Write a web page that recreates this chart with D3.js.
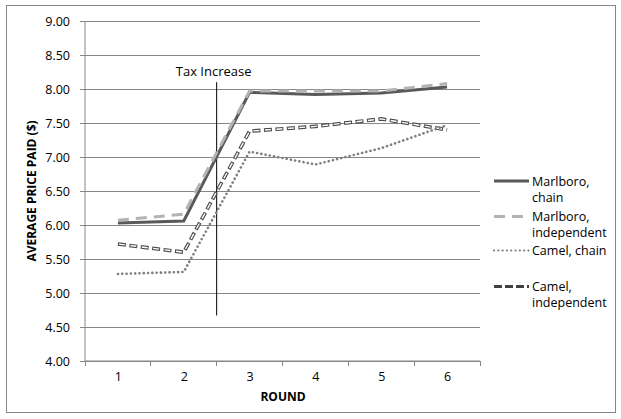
<!DOCTYPE html>
<html><head><meta charset="utf-8">
<script src="https://cdn.jsdelivr.net/npm/d3@7"></script>
<style>
body{margin:0;background:#fff;}
svg{display:block;font-family:"Open Sans",sans-serif;}
</style></head>
<body><svg id="c" width="621" height="419"></svg>
<script>
const rounds = ["1","2","3","4","5","6"];
const marlboroChain = [6.03, 6.06, 7.95, 7.92, 7.94, 8.03];
const marlboroIndependent = [6.07, 6.16, 7.97, 7.97, 7.97, 8.08];
const camelChain = [5.28, 5.31, 7.08, 6.89, 7.13, 7.47];
const camelIndependent = [5.72, 5.60, 7.38, 7.45, 7.56, 7.40];
const yTicks = [4.00, 4.50, 5.00, 5.50, 6.00, 6.50, 7.00, 7.50, 8.00, 8.50, 9.00];
const seriesNames = ["Marlboro, chain", "Marlboro, independent", "Camel, chain", "Camel, independent"];
const legendLines = [["Marlboro,", "chain"], ["Marlboro,", "independent"], ["Camel, chain"], ["Camel,", "independent"]];
const taxLabel = "Tax Increase";
const taxSpan = [4.67, 8.10];   // vertical marker between rounds 2 and 3

const svg = d3.select("#c");
const L = 85, R = 480, T = 21, B = 361;
const grid = "#868686";

svg.append("rect").attr("x", 6.5).attr("y", 5.5).attr("width", 609).attr("height", 407)
  .attr("fill", "#fff").attr("stroke", grid).attr("stroke-width", 1);

const y = d3.scaleLinear().domain([4, 9]).range([B, T]);
const xb = d3.scaleBand().domain(rounds).range([L, R]);
const xp = d3.scalePoint().domain(rounds).range([L, R]).padding(0.5);

// gridlines
svg.append("g").attr("transform", `translate(${L},0)`)
  .call(d3.axisLeft(y).tickValues(yTicks).tickSize(-(R - L)).tickFormat(""))
  .call(g => g.select(".domain").remove())
  .call(g => g.selectAll("line").attr("stroke", grid).attr("stroke-width", 1).attr("shape-rendering", "crispEdges"));

// y axis
const ya = svg.append("g").attr("transform", `translate(${L},0)`)
  .call(d3.axisLeft(y).tickValues(yTicks).tickSize(5).tickPadding(10).tickFormat(d3.format(".2f")));
ya.select(".domain").attr("stroke", grid).attr("d", `M-0,${T}V${B}`);
ya.selectAll("line").attr("stroke", grid);
ya.selectAll("text").attr("font-size", 12.5).attr("fill", "#000").attr("font-family", "Open Sans");

// x axis
const xa = svg.append("g").attr("transform", `translate(0,${B})`)
  .call(d3.axisBottom(xp).tickSize(0).tickPadding(11));
xa.select(".domain").attr("stroke", grid).attr("d", `M${L},0H${R}`);
xa.selectAll("text").attr("font-size", 12.5).attr("fill", "#000").attr("font-family", "Open Sans");
const bounds = rounds.map(r => xb(r)).concat([xb(rounds[rounds.length - 1]) + xb.bandwidth()]);
svg.append("g").selectAll("line").data(bounds).join("line")
  .attr("x1", d => d).attr("x2", d => d).attr("y1", B).attr("y2", B + 5)
  .attr("stroke", grid).attr("shape-rendering", "crispEdges");

// axis titles
svg.append("text").attr("x", (L + R) / 2 + 0.5).attr("y", 401).attr("text-anchor", "middle")
  .attr("font-size", 12).attr("font-weight", "bold").text("ROUND");
svg.append("text").attr("transform", `translate(36,${(T + B) / 2}) rotate(-90)`).attr("text-anchor", "middle")
  .attr("font-size", 12).attr("font-weight", "bold").text("AVERAGE PRICE PAID ($)");

// tax increase marker
const taxX = xb(rounds[2]);
svg.append("line").attr("x1", taxX).attr("x2", taxX).attr("y1", y(taxSpan[1])).attr("y2", y(taxSpan[0]))
  .attr("stroke", "#000").attr("stroke-width", 1);
svg.append("text").attr("x", taxX - 3).attr("y", 75.5).attr("text-anchor", "middle")
  .attr("font-size", 13).text(taxLabel);

const line = d3.line().x((d, i) => xp(rounds[i])).y(d => y(d));
const plot = svg.append("g").attr("fill", "none");

// Camel, independent (outlined dashes)
plot.append("path").datum(camelIndependent).attr("d", line)
  .attr("stroke", "#4a4a4a").attr("stroke-width", 3.6).attr("stroke-dasharray", "8,3.5");
plot.append("path").datum(camelIndependent).attr("d", line)
  .attr("stroke", "#fff").attr("stroke-width", 1.4).attr("stroke-dasharray", "6,5.5").attr("stroke-dashoffset", -1);
// Camel, chain (dots)
plot.append("path").datum(camelChain).attr("d", line)
  .attr("stroke", "#7f7f7f").attr("stroke-width", 2.6).attr("stroke-linecap", "round").attr("stroke-dasharray", "0.1,4.2");
// Marlboro, chain
plot.append("path").datum(marlboroChain).attr("d", line)
  .attr("stroke", "#595959").attr("stroke-width", 3);
// Marlboro, independent
plot.append("path").datum(marlboroIndependent).attr("d", line)
  .attr("stroke", "#b3b3b3").attr("stroke-width", 3).attr("stroke-dasharray", "11,7");

// legend
const legY = [181, 216.5, 250.5, 286.5];
const legStyles = [
  {stroke: "#595959", w: 3, dash: null, cap: "butt"},
  {stroke: "#b3b3b3", w: 3, dash: "11,7", cap: "butt"},
  {stroke: "#7f7f7f", w: 2.2, dash: "0.1,4.2", cap: "round"},
  {stroke: "#404040", w: 3, dash: "8,3", cap: "butt"}
];
const leg = svg.append("g");
seriesNames.forEach((name, i) => {
  const s = legStyles[i];
  leg.append("line").attr("x1", 494).attr("x2", 529).attr("y1", legY[i]).attr("y2", legY[i])
    .attr("stroke", s.stroke).attr("stroke-width", s.w).attr("stroke-dasharray", s.dash).attr("stroke-linecap", s.cap);
  const t = leg.append("text").attr("x", 532).attr("y", legY[i] + 4.5).attr("font-size", 12.5);
  legendLines[i].forEach((ln, j) => t.append("tspan").attr("x", 532).attr("dy", j ? 16 : 0).text(ln));
});
</script></body></html>
